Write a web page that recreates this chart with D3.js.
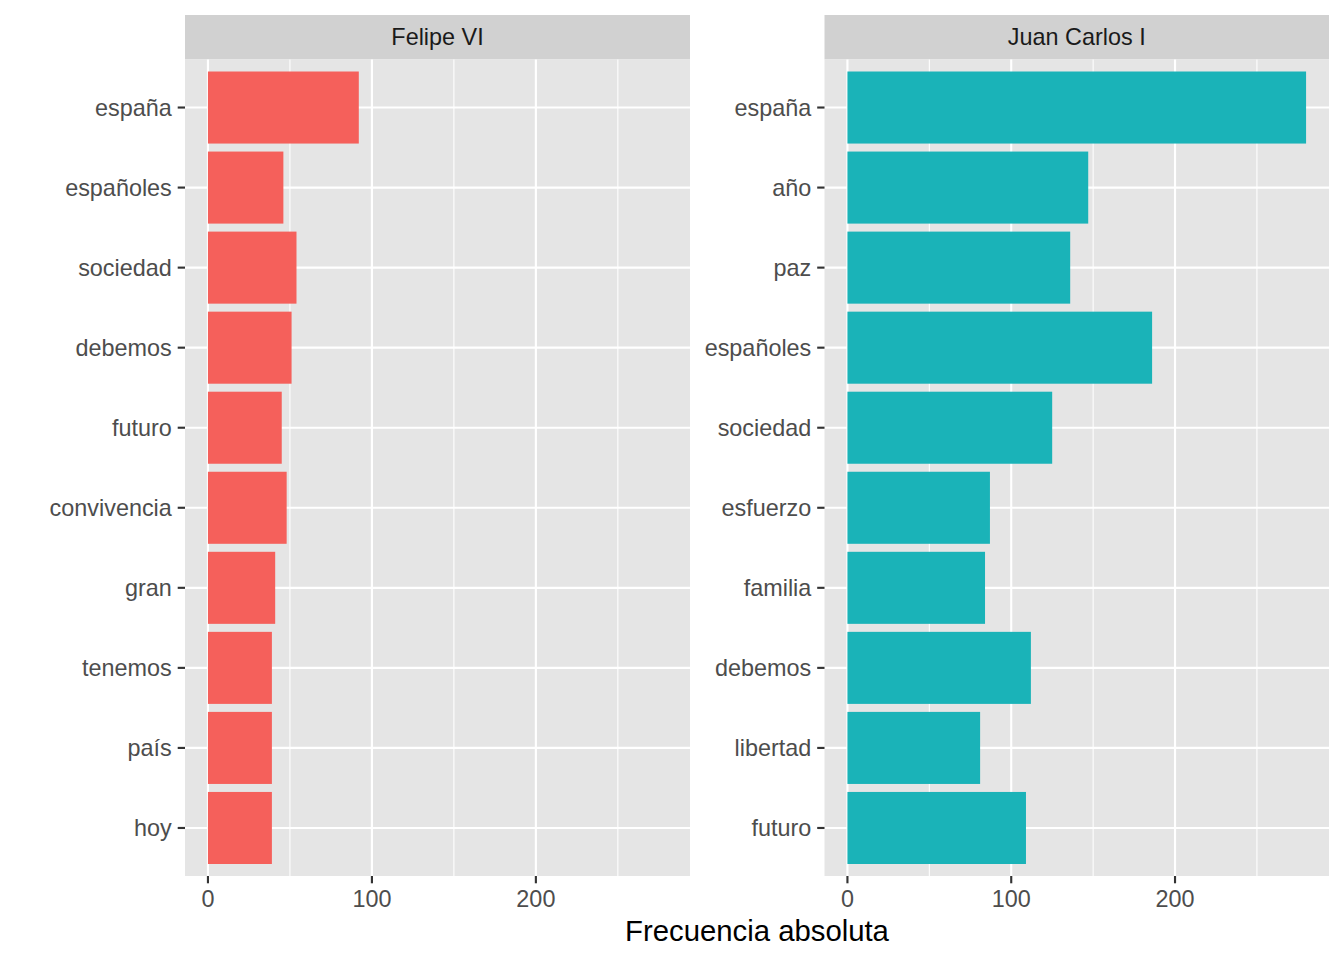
<!DOCTYPE html>
<html><head><meta charset="utf-8">
<script src="https://cdn.jsdelivr.net/npm/d3@7"></script>
<style>body{margin:0;background:#fff}svg{display:block}</style>
</head><body>
<svg id="c" width="1344" height="960"></svg>
<script>
const panels = ["Felipe VI", "Juan Carlos I"];
const felipeWords = ["españa","españoles","sociedad","debemos","futuro","convivencia","gran","tenemos","país","hoy"];
const felipeValues = [92, 46, 54, 51, 45, 48, 41, 39, 39, 39];
const juanWords = ["españa","año","paz","españoles","sociedad","esfuerzo","familia","debemos","libertad","futuro"];
const juanValues = [280, 147, 136, 186, 125, 87, 84, 112, 81, 109];
const fills = ["#F5605B", "#1AB3B8"];
const xTicks = [0, 100, 200];
const xMinor = [50, 150, 250];
const xTitle = "Frecuencia absoluta";

const svg = d3.select("#c");
const font = "'Liberation Sans', Arial, Helvetica, sans-serif";
const pTop = 59.5, pBottom = 876, stripTop = 15;
const panelX = [[185, 690], [824.5, 1329]];
const tickLen = 7.3, tickGap = 5.9, fs = 23.4;
const data = [
  felipeWords.map((w,i)=>({w, v: felipeValues[i]})),
  juanWords.map((w,i)=>({w, v: juanValues[i]}))
];
const maxV = d3.max([...felipeValues, ...juanValues]);
const pad = maxV * 0.05;

panels.forEach((name, p) => {
  const [x0, x1] = panelX[p];
  const x = d3.scaleLinear().domain([-pad, maxV + pad]).range([x0, x1]);
  const y = d3.scaleBand().domain(data[p].map(d=>d.w)).range([pTop, pBottom]).paddingInner(0.1).paddingOuter(0.15);
  const yc = w => y(w) + y.bandwidth()/2;
  const g = svg.append("g");
  g.append("rect").attr("x", x0).attr("y", stripTop).attr("width", x1-x0).attr("height", pTop-stripTop).attr("fill", "#D1D1D1");
  g.append("text").attr("x", (x0+x1)/2).attr("y", (stripTop+pTop)/2).attr("dy", "0.35em")
    .attr("text-anchor","middle").attr("font-family", font).attr("font-size", fs).attr("fill", "#1A1A1A").text(name);
  g.append("rect").attr("x", x0).attr("y", pTop).attr("width", x1-x0).attr("height", pBottom-pTop).attr("fill", "#E5E5E5");
  xMinor.forEach(t => g.append("line").attr("x1", x(t)).attr("x2", x(t)).attr("y1", pTop).attr("y2", pBottom).attr("stroke","#fff").attr("stroke-width",1.07));
  xTicks.forEach(t => g.append("line").attr("x1", x(t)).attr("x2", x(t)).attr("y1", pTop).attr("y2", pBottom).attr("stroke","#fff").attr("stroke-width",2.13));
  data[p].forEach(d => {
    g.append("line").attr("x1", x0).attr("x2", x1).attr("y1", yc(d.w)).attr("y2", yc(d.w)).attr("stroke","#fff").attr("stroke-width",2.13);
  });
  g.selectAll("rect.bar").data(data[p]).join("rect").attr("class","bar")
    .attr("x", x(0)).attr("width", d => x(d.v) - x(0))
    .attr("y", d => y(d.w)).attr("height", y.bandwidth())
    .attr("fill", fills[p]);
  data[p].forEach(d => {
    g.append("line").attr("x1", x0-tickLen).attr("x2", x0).attr("y1", yc(d.w)).attr("y2", yc(d.w)).attr("stroke","#333").attr("stroke-width",2.13);
    g.append("text").attr("x", x0-tickLen-tickGap).attr("y", yc(d.w)).attr("dy","0.35em").attr("text-anchor","end")
      .attr("font-family", font).attr("font-size", fs).attr("fill", "#4D4D4D").text(d.w);
  });
  xTicks.forEach(t => {
    g.append("line").attr("x1", x(t)).attr("x2", x(t)).attr("y1", pBottom).attr("y2", pBottom+tickLen).attr("stroke","#333").attr("stroke-width",2.13);
    g.append("text").attr("x", x(t)).attr("y", pBottom+tickLen+tickGap).attr("dy","0.74em").attr("text-anchor","middle")
      .attr("font-family", font).attr("font-size", fs).attr("fill", "#4D4D4D").text(t);
  });
});
svg.append("text").attr("x", (185+1329)/2).attr("y", 931).attr("dy","0.35em").attr("text-anchor","middle")
  .attr("font-family", font).attr("font-size", 29.3).attr("fill", "#000").text(xTitle);
</script>
</body></html>
